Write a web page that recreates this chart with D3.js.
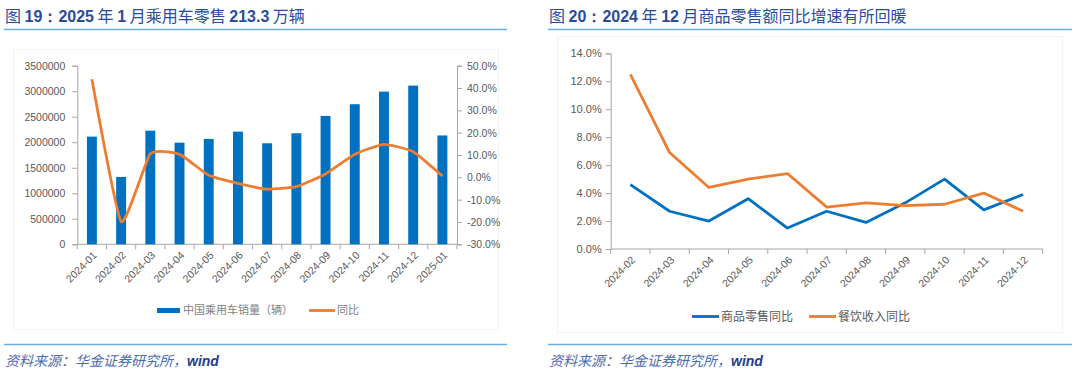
<!DOCTYPE html>
<html>
<head>
<meta charset="utf-8">
<script src="https://cdn.jsdelivr.net/npm/d3@7"></script>
<style>
  body { margin: 0; background: #fff; }
  svg text { font-family: "Liberation Sans", Arial, "Noto Sans CJK SC", sans-serif; }
</style>
</head>
<body>
<svg width="1080" height="375"></svg>
<script>
// ---- data: left panel (乘用车零售)
const carMonths = ["2024-01","2024-02","2024-03","2024-04","2024-05","2024-06","2024-07",
                   "2024-08","2024-09","2024-10","2024-11","2024-12","2025-01"];
const carSales = [2110000,1320000,2227000,1992000,2065000,2208000,1980000,
                  2176000,2516000,2745000,2992000,3110000,2133000];
const carYoY = [43.9,-19.8,10.5,10.3,0.9,-2.7,-5.3,-4.2,1.5,10.3,14.8,11.5,0.6];
const carLeftTicks = [0,500000,1000000,1500000,2000000,2500000,3000000,3500000];
const carRightTicks = [-30,-20,-10,0,10,20,30,40,50];

// ---- data: right panel (社零)
const retailMonths = ["2024-02","2024-03","2024-04","2024-05","2024-06","2024-07",
                      "2024-08","2024-09","2024-10","2024-11","2024-12"];
const goodsYoY = [4.6,2.7,2.0,3.6,1.5,2.7,1.9,3.3,5.0,2.8,3.9];
const cateringYoY = [12.5,6.9,4.4,5.0,5.4,3.0,3.3,3.1,3.2,4.0,2.7];
const retailTicks = [0,2,4,6,8,10,12,14];

const blue = "#0070c0", orange = "#ed7d31", axisGrey = "#a6a6a6", labelGrey = "#595959";
const svg = d3.select("svg");

// panel headers + footers
function frame(x0, x1, titleParts) {
    const t = svg.append("text").attr("x", x0 + 1).attr("y", 22)
        .style("font-size", "16px").attr("fill", "#2b4c9b");
    titleParts.forEach(p => {
        t.append("tspan").text(p[0])
            .style("font-weight", p[1] ? "bold" : "normal")
            .style("font-family", p[1] ? "Liberation Sans, Arial" : "Noto Sans CJK SC");
    });
    svg.append("line").attr("x1", x0).attr("x2", x1).attr("y1", 29.5).attr("y2", 29.5)
        .attr("stroke", "#6aaddb").attr("stroke-width", 1.5);
    svg.append("line").attr("x1", x0).attr("x2", x1).attr("y1", 344.5).attr("y2", 344.5)
        .attr("stroke", "#6aaddb").attr("stroke-width", 1.5);
    const s = svg.append("text").attr("x", x0 + 1).attr("y", 366)
        .style("font-size", "14px").style("font-style", "italic");
    s.append("tspan").text("资料来源：华金证券研究所，")
        .attr("fill", "#4a6cb3").style("font-family", "Noto Sans CJK SC");
    s.append("tspan").text("wind").attr("fill", "#1f3c8c").style("font-weight", "bold");
}

frame(4, 507, [["图 ", false], ["19：2025", true], [" 年 ", false], ["1", true],
               [" 月乘用车零售 ", false], ["213.3", true], [" 万辆", false]]);
frame(548, 1072, [["图 ", false], ["20：2024", true], [" 年 ", false], ["12", true],
                  [" 月商品零售额同比增速有所回暖", false]]);

// faint chart-area borders
svg.append("rect").attr("x", 13.5).attr("y", 49.5).attr("width", 485).attr("height", 280)
    .attr("fill", "none").attr("stroke", "#f3f3f3");
svg.append("rect").attr("x", 557.5).attr("y", 36.5).attr("width", 505).attr("height", 296)
    .attr("fill", "none").attr("stroke", "#f3f3f3");

function styleAxis(g) {
    g.selectAll("path, line").attr("stroke", axisGrey);
    g.selectAll("text").attr("fill", labelGrey).style("font-size", "10.5px");
}

// ===== left panel =====
const x1 = d3.scaleBand().domain(carMonths).range([77.3, 457]).paddingInner(0.66).paddingOuter(0.33);
const xb1 = d3.scaleBand().domain(carMonths).range([77.3, 457]);
const yL = d3.scaleLinear().domain([0, 3500000]).range([244.3, 65.7]);
const yR = d3.scaleLinear().domain([-30, 50]).range([244.3, 65.7]);

const gL = svg.append("g").attr("transform", "translate(77.3,0)")
    .call(d3.axisLeft(yL).tickValues(carLeftTicks).tickFormat(d3.format("d")).tickSizeOuter(0).tickSize(5).tickPadding(7));
styleAxis(gL);
const gR = svg.append("g").attr("transform", "translate(457,0)")
    .call(d3.axisRight(yR).tickValues(carRightTicks).tickFormat(d => d.toFixed(1) + "%").tickSizeOuter(0).tickSize(5).tickPadding(5));
styleAxis(gR);

// x axis with ticks at band boundaries
const gX1 = svg.append("g").attr("transform", "translate(0,244.3)");
gX1.append("line").attr("x1", 77.3).attr("x2", 457).attr("stroke", axisGrey);
gX1.selectAll("line.tk").data(carMonths.concat(["end"])).enter().append("line")
    .attr("class", "tk")
    .attr("x1", (d, i) => i < carMonths.length ? xb1(d) : 457)
    .attr("x2", (d, i) => i < carMonths.length ? xb1(d) : 457)
    .attr("y2", 5).attr("stroke", axisGrey);
gX1.selectAll("text").data(carMonths).enter().append("text")
    .attr("transform", d => `translate(${xb1(d) + xb1.bandwidth() / 2 + 3},9) rotate(-45)`)
    .attr("text-anchor", "end").attr("dy", "0.35em")
    .attr("fill", labelGrey).style("font-size", "10.5px").text(d => d);

svg.append("g").selectAll("rect").data(carMonths).enter().append("rect")
    .attr("x", d => x1(d)).attr("width", x1.bandwidth())
    .attr("y", (d, i) => yL(carSales[i]))
    .attr("height", (d, i) => yL(0) - yL(carSales[i]))
    .attr("fill", blue);

const carLine = d3.line()
    .x((d, i) => xb1(carMonths[i]) + xb1.bandwidth() / 2)
    .y(d => yR(d))
    .curve(d3.curveCardinal.tension(0.55));
svg.append("path").datum(carYoY).attr("d", carLine)
    .attr("fill", "none").attr("stroke", orange).attr("stroke-width", 2.8);

// legend left
const lg1 = svg.append("g");
lg1.append("rect").attr("x", 157).attr("y", 308).attr("width", 23).attr("height", 5).attr("fill", blue);
lg1.append("text").attr("x", 183).attr("y", 310.5).attr("dy", "0.35em")
    .attr("fill", "#7f7f7f").style("font-size", "11px").style("font-family", "Noto Sans CJK SC")
    .text("中国乘用车销量（辆）");
lg1.append("line").attr("x1", 309).attr("x2", 335).attr("y1", 310.5).attr("y2", 310.5)
    .attr("stroke", orange).attr("stroke-width", 2.8);
lg1.append("text").attr("x", 337).attr("y", 310.5).attr("dy", "0.35em")
    .attr("fill", "#7f7f7f").style("font-size", "11px").style("font-family", "Noto Sans CJK SC")
    .text("同比");

// ===== right panel =====
const x2 = d3.scaleBand().domain(retailMonths).range([610.7, 1042.7]);
const y2 = d3.scaleLinear().domain([0, 14]).range([249, 53.3]);

const gY2 = svg.append("g").attr("transform", "translate(610.7,0)")
    .call(d3.axisLeft(y2).tickValues(retailTicks).tickFormat(d => d.toFixed(1) + "%").tickSizeOuter(0).tickSize(5).tickPadding(4));
styleAxis(gY2);
gY2.selectAll("text").style("font-size", "11px");

const gX2 = svg.append("g").attr("transform", "translate(0,249)");
gX2.append("line").attr("x1", 610.7).attr("x2", 1042.7).attr("stroke", axisGrey);
gX2.selectAll("line.tk").data(retailMonths.concat(["end"])).enter().append("line")
    .attr("class", "tk")
    .attr("x1", (d, i) => i < retailMonths.length ? x2(d) : 1042.7)
    .attr("x2", (d, i) => i < retailMonths.length ? x2(d) : 1042.7)
    .attr("y2", 5).attr("stroke", axisGrey);
gX2.selectAll("text").data(retailMonths).enter().append("text")
    .attr("transform", d => `translate(${x2(d) + x2.bandwidth() / 2 + 3},9) rotate(-45)`)
    .attr("text-anchor", "end").attr("dy", "0.35em")
    .attr("fill", labelGrey).style("font-size", "10.5px").text(d => d);

const retailLine = d3.line()
    .x((d, i) => x2(retailMonths[i]) + x2.bandwidth() / 2)
    .y(d => y2(d));
svg.append("path").datum(goodsYoY).attr("d", retailLine)
    .attr("fill", "none").attr("stroke", blue).attr("stroke-width", 2.8).attr("stroke-linejoin", "round");
svg.append("path").datum(cateringYoY).attr("d", retailLine)
    .attr("fill", "none").attr("stroke", orange).attr("stroke-width", 2.8).attr("stroke-linejoin", "round");

// legend right
const lg2 = svg.append("g");
[[goodsYoY, blue, 692, "商品零售同比"], [cateringYoY, orange, 809, "餐饮收入同比"]].forEach(s => {
    lg2.append("line").attr("x1", s[2]).attr("x2", s[2] + 27).attr("y1", 316.5).attr("y2", 316.5)
        .attr("stroke", s[1]).attr("stroke-width", 2.8);
    lg2.append("text").attr("x", s[2] + 29).attr("y", 317).attr("dy", "0.35em")
        .attr("fill", labelGrey).style("font-size", "12px").style("font-family", "Noto Sans CJK SC")
        .text(s[3]);
});
</script>
</body>
</html>
